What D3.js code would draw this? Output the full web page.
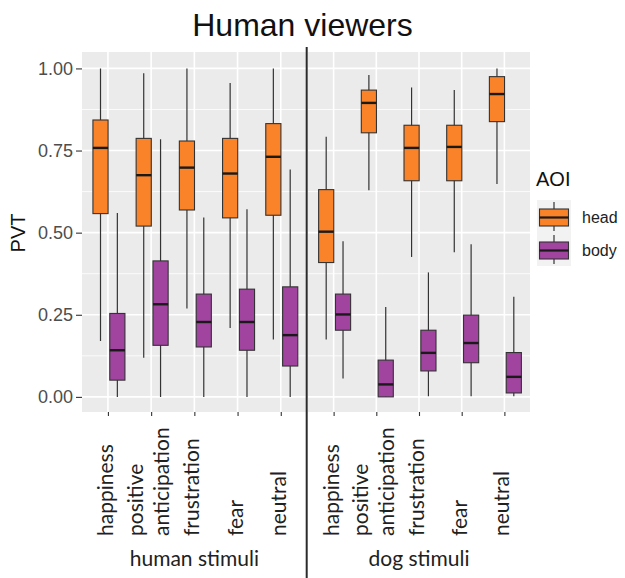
<!DOCTYPE html>
<html>
<head>
<meta charset="utf-8">
<script src="https://cdn.jsdelivr.net/npm/d3@7"></script>
<style>
  body { margin:0; background:#fff; }
</style>
</head>
<body>
<div id="chart"></div>
<script>
// categories, panels and groups
let categories = ["happiness", "positive anticipation", "frustration", "fear", "neutral"];
let panels = ["human stimuli", "dog stimuli"];
let groups = ["head", "body"];
let yTicks = [0, 0.25, 0.5, 0.75, 1];
let yMinor = [0.125, 0.375, 0.625, 0.875];

// box stats: [lower whisker, q1, median, q3, upper whisker]
let humanHead = [[0.17,0.558,0.758,0.843,1.0],[0.119,0.52,0.675,0.787,0.985],[0.269,0.569,0.698,0.779,1.0],[0.21,0.545,0.68,0.787,0.956],[0.175,0.553,0.731,0.832,1.0]];
let humanBody = [[0,0.051,0.142,0.254,0.56],[0,0.157,0.282,0.414,0.784],[0,0.152,0.228,0.313,0.546],[0,0.142,0.228,0.328,0.571],[0,0.094,0.188,0.335,0.692]];
let dogHead = [[0.175,0.409,0.503,0.631,0.792],[0.629,0.804,0.895,0.934,0.98],[0.426,0.658,0.758,0.827,0.942],[0.44,0.658,0.761,0.827,0.934],[0.648,0.838,0.922,0.975,1.0]];
let dogBody = [[0.056,0.203,0.251,0.313,0.474],[0,0,0.038,0.112,0.274],[0.002,0.079,0.134,0.203,0.379],[0.002,0.104,0.164,0.249,0.465],[0.002,0.012,0.061,0.135,0.305]];

let stats = {
  "human stimuli": {head: humanHead, body: humanBody},
  "dog stimuli": {head: dogHead, body: dogBody}
};

let screen = {width:625, height:578};
let panelTop = 52, panelBottom = 412;
let panelX = {"human stimuli": [82, 306.7], "dog stimuli": [308, 530]};
let colorScale = d3.scaleOrdinal().domain(groups).range(["#fa8228", "#a0449f"]);
let stroke = "#333";

let svg = d3.select("#chart").append("svg")
    .attr("width", screen.width)
    .attr("height", screen.height);

let yScale = d3.scaleLinear().domain([-0.046, 1.05]).range([panelBottom, panelTop]);
let subScale = d3.scaleBand().domain(groups).range([-15, 17]).paddingInner(0.1);

// title
svg.append("text")
    .attr("x", 302.5).attr("y", 36)
    .attr("text-anchor", "middle")
    .style("font-family", "Liberation Sans, Arial, sans-serif")
    .style("font-size", "32px")
    .attr("fill", "#111")
    .text("Human viewers");

panels.forEach(function(p) {
    let xr = panelX[p];
    let xScale = d3.scalePoint().domain(categories).range(xr).padding(0.6);
    let g = svg.append("g");

    g.append("rect")
        .attr("x", xr[0]).attr("y", panelTop)
        .attr("width", xr[1] - xr[0]).attr("height", panelBottom - panelTop)
        .attr("fill", "#ebebeb");

    g.selectAll(".minor").data(yMinor).enter().append("line")
        .attr("x1", xr[0]).attr("x2", xr[1])
        .attr("y1", d => yScale(d)).attr("y2", d => yScale(d))
        .attr("stroke", "#fff").attr("stroke-width", 0.8);
    g.selectAll(".major").data(yTicks).enter().append("line")
        .attr("x1", xr[0]).attr("x2", xr[1])
        .attr("y1", d => yScale(d)).attr("y2", d => yScale(d))
        .attr("stroke", "#fff").attr("stroke-width", 1.6);
    g.selectAll(".vgrid").data(categories).enter().append("line")
        .attr("x1", d => xScale(d)).attr("x2", d => xScale(d))
        .attr("y1", panelTop).attr("y2", panelBottom)
        .attr("stroke", "#fff").attr("stroke-width", 1.6);

    // x axis ticks
    let xAxis = g.append("g")
        .attr("transform", "translate(0," + panelBottom + ")")
        .call(d3.axisBottom(xScale).tickSize(4).tickFormat(""));
    xAxis.select(".domain").remove();
    xAxis.selectAll(".tick line").attr("stroke", stroke).attr("stroke-width", 1.1);

    // rotated tick labels
    categories.forEach(function(c) {
        let lines = c.split(" ");
        let lab = g.append("text")
            .attr("transform", "translate(" + (xScale(c) - 2) + ",536) rotate(-90)")
            .attr("text-anchor", "start")
            .style("font-family", "Lato, sans-serif")
            .style("font-size", "21px")
            .attr("fill", "#1e221e");
        lines.forEach(function(l, i) {
            let off = (i - (lines.length - 1) / 2) * 26;
            lab.append("tspan")
                .attr("x", 0)
                .attr("y", off + 7)
                .text(l);
        });
    });

    g.append("text")
        .attr("x", (xr[0] + xr[1]) / 2).attr("y", 566)
        .attr("text-anchor", "middle")
        .style("font-family", "Lato, sans-serif")
        .style("font-size", "21px")
        .attr("fill", "#1e221e")
        .text(p);

    // boxes
    groups.forEach(function(grp) {
        let data = stats[p][grp];
        let bw = subScale.bandwidth();
        let bg = g.selectAll(".box-" + grp).data(data).enter().append("g");
        let cx = (d, i) => xScale(categories[i]) + subScale(grp) + bw / 2;
        bg.append("line")
            .attr("x1", cx).attr("x2", cx)
            .attr("y1", d => yScale(d[0])).attr("y2", d => yScale(d[4]))
            .attr("stroke", stroke).attr("stroke-width", 1.2);
        bg.append("rect")
            .attr("x", (d, i) => xScale(categories[i]) + subScale(grp))
            .attr("y", d => yScale(d[3]))
            .attr("width", bw)
            .attr("height", d => yScale(d[1]) - yScale(d[3]))
            .attr("fill", colorScale(grp))
            .attr("stroke", stroke).attr("stroke-width", 1.1);
        bg.append("line")
            .attr("x1", (d, i) => xScale(categories[i]) + subScale(grp))
            .attr("x2", (d, i) => xScale(categories[i]) + subScale(grp) + bw)
            .attr("y1", d => yScale(d[2])).attr("y2", d => yScale(d[2]))
            .attr("stroke", "#1a1a1a").attr("stroke-width", 2.4);
    });
});

// y axis
let yAxis = svg.append("g")
    .attr("transform", "translate(82,0)")
    .call(d3.axisLeft(yScale).tickValues(yTicks).tickSize(6).tickPadding(3).tickFormat(d3.format(".2f")));
yAxis.select(".domain").remove();
yAxis.selectAll(".tick line").attr("stroke", stroke).attr("stroke-width", 1.1);
yAxis.selectAll(".tick text")
    .style("font-family", "Liberation Sans, Arial, sans-serif")
    .style("font-size", "18px")
    .attr("fill", "#4d4d4d");

svg.append("text")
    .attr("transform", "translate(25,233) rotate(-90)")
    .attr("text-anchor", "middle")
    .style("font-family", "Liberation Sans, Arial, sans-serif")
    .style("font-size", "20px")
    .attr("fill", "#111")
    .text("PVT");

// divider line
svg.append("line")
    .attr("x1", 306.7).attr("x2", 306.7)
    .attr("y1", 47).attr("y2", screen.height)
    .attr("stroke", "#2b2b2b").attr("stroke-width", 2);

// legend
let legend = svg.append("g").attr("transform", "translate(536,0)");
legend.append("text")
    .attr("x", 0).attr("y", 186)
    .style("font-family", "Liberation Sans, Arial, sans-serif")
    .style("font-size", "20px")
    .attr("fill", "#111")
    .text("AOI");
groups.forEach(function(grp, i) {
    let ky = 200 + i * 33;
    let k = legend.append("g").attr("transform", "translate(0," + ky + ")");
    k.append("rect").attr("x", 1).attr("y", 0).attr("width", 34).attr("height", 33).attr("fill", "#f2f2f2");
    k.append("line").attr("x1", 18).attr("x2", 18).attr("y1", 2).attr("y2", 31)
        .attr("stroke", stroke).attr("stroke-width", 1.2);
    k.append("rect").attr("x", 3.5).attr("y", 9).attr("width", 29).attr("height", 17)
        .attr("fill", colorScale(grp)).attr("stroke", stroke).attr("stroke-width", 1.1);
    k.append("line").attr("x1", 3.5).attr("x2", 32.5).attr("y1", 17.5).attr("y2", 17.5)
        .attr("stroke", "#1a1a1a").attr("stroke-width", 2.2);
    k.append("text").attr("x", 46).attr("y", 23)
        .style("font-family", "Liberation Sans, Arial, sans-serif")
        .style("font-size", "16px")
        .attr("fill", "#222")
        .text(grp);
});
</script>
</body>
</html>
